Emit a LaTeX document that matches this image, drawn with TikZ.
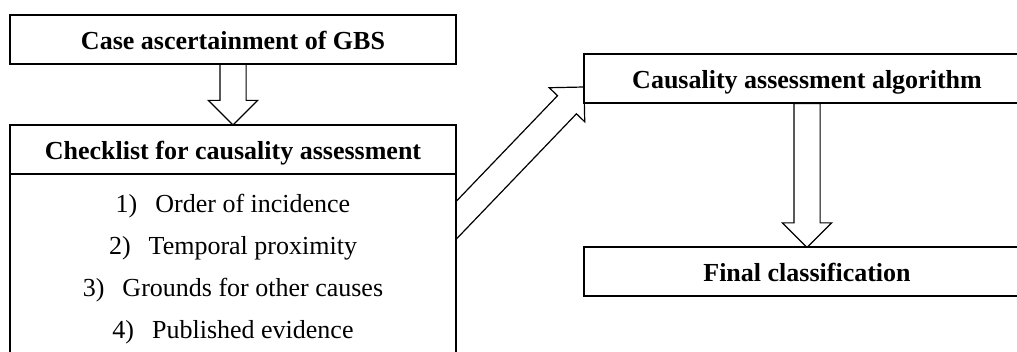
\documentclass[tikz,border=0pt]{standalone}
\usepackage{fontspec}
\setmainfont{Liberation Serif}
\usetikzlibrary{positioning,calc,shapes.arrows,backgrounds}

\tikzstyle{box} = [draw, line width=1pt, outer sep=0pt, fill=white, minimum width=223pt, minimum height=24.5pt, text height=10pt, text depth=0pt, font=\fontsize{13}{15}\selectfont\bfseries]
\tikzstyle{listbox} = [draw, line width=1pt, outer sep=0pt, fill=white, minimum width=223pt, minimum height=93pt]
\tikzstyle{item} = [anchor=base, inner sep=0pt, font=\fontsize{13}{15}\selectfont]
\tikzstyle{fat} = [single arrow, draw, line width=0.6pt, fill=white, inner xsep=0pt, inner ysep=6.25pt, single arrow head extend=5.75pt, single arrow tip angle=90, outer sep=0pt]

% hollow arrow from #2 to #3, named #1
\newcommand{\fatarrow}[3]{%
  \path let \p1=($(#3)-(#2)$) in
    node[fat, minimum height={veclen(\x1,\y1)}, rotate={atan2(\y1,\x1)}, anchor=tip] (#1) at (#3) {};}

\begin{document}
\begin{tikzpicture}
\useasboundingbox (0,0) rectangle (508.5pt,-176pt);

\node[box] (case) at (116.5pt,-19.75pt) {Case ascertainment of GBS};
\node[box, below=30.5pt of case] (check) {Checklist for causality assessment};
\node[listbox, below=0pt of check] (list) {};
\foreach \t [count=\n] in {Order of incidence, Temporal proximity, Grounds for other causes, Published evidence}
    \node[item] (item\n) at ($(list.north)+(0,{-19.5pt-(\n-1)*20.85pt})$) {\n)\hspace{9pt}\t};

\node[box] (algo) at (403.5pt,-39.5pt) {Causality assessment algorithm};
\node[box, below=72pt of algo] (final) {Final classification};

\coordinate (s) at ($(check.south east)+(0,-23.25pt)$);
\coordinate (t) at ($(algo.west)+(0,-4pt)$);
\coordinate (s0) at ($(s)!-8pt!(t)$);

\begin{scope}[on background layer]
    \fatarrow{a1}{case.south}{check.north}
    \fatarrow{a2}{algo.south}{final.north}
    \fatarrow{a3}{s0}{t}
\end{scope}
\end{tikzpicture}
\end{document}
